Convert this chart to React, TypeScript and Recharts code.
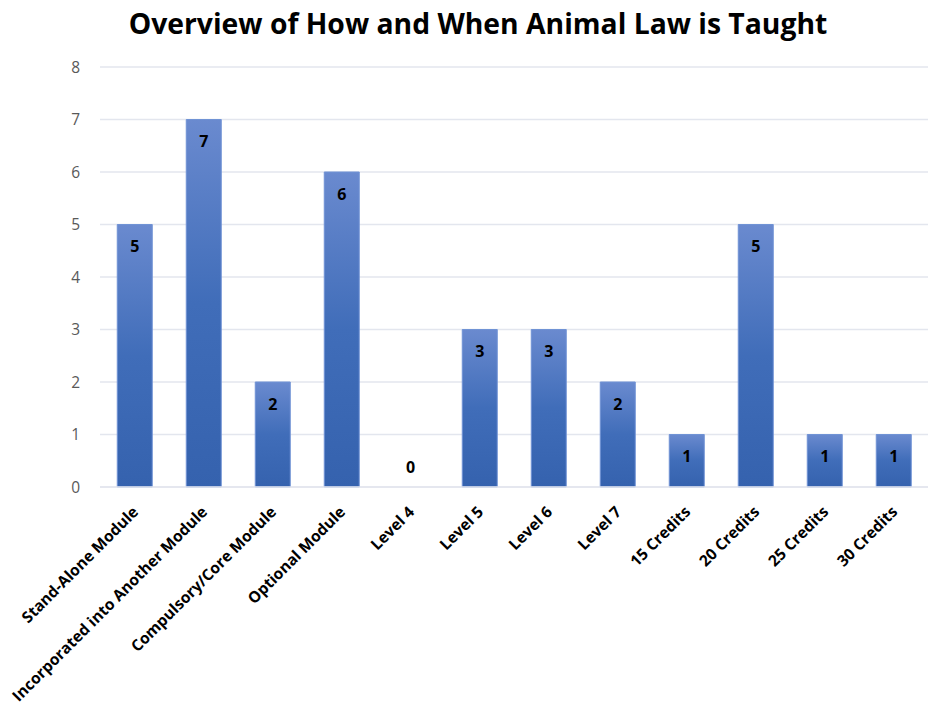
import React from "react";
import { ComposedChart, Bar, Line, XAxis, YAxis, CartesianGrid, LabelList } from "recharts";

const categories = [
  "Stand-Alone Module",
  "Incorporated into Another Module",
  "Compulsory/Core Module",
  "Optional Module",
  "Level 4",
  "Level 5",
  "Level 6",
  "Level 7",
  "15 Credits",
  "20 Credits",
  "25 Credits",
  "30 Credits",
];
const counts = [5, 7, 2, 6, 0, 3, 3, 2, 1, 5, 1, 1];
const yTicks = [0, 1, 2, 3, 4, 5, 6, 7, 8];

const data = categories.map((name, i) => ({ name, count: counts[i] }));

const FONT = "'Open Sans', Lato, sans-serif";

const XTick = (props: any) => {
  const { x, y, payload } = props;
  return (
    <g transform={`translate(${x + 1},${y + 14}) rotate(-45)`}>
      <text x={0} y={0} dy="0.35em" textAnchor="end" fontFamily={FONT} fontWeight="bold" fontSize={15.6} fill="#000">
        {payload.value}
      </text>
    </g>
  );
};

const renderBarLabel = (props: any) => {
  const { x, y, width, value } = props;
  if (Number(value) === 0) return null;
  const cx = Number(x) + Number(width) / 2;
  return (
    <text x={cx} y={Number(y) + 22} dy="0.35em" textAnchor="middle" fontFamily={FONT} fontWeight="bold" fontSize={16} fill="#000">
      {value}
    </text>
  );
};

const renderZeroLabel = (props: any) => {
  const { x, y, value } = props;
  if (Number(value) !== 0) return null;
  return (
    <text x={Number(x)} y={Number(y) - 20} dy="0.35em" textAnchor="middle" fontFamily={FONT} fontWeight="bold" fontSize={16} fill="#000">
      {value}
    </text>
  );
};

export default function App() {
  return (
    <div style={{ position: "absolute", left: 0, top: 0, width: 928, height: 707, background: "#fff" }}>
      <svg width={0} height={0} style={{ position: "absolute" }}>
        <defs>
          <linearGradient id="barGrad" x1="0" y1="0" x2="0" y2="1">
            <stop offset="0%" stopColor="#6a8acf" />
            <stop offset="50%" stopColor="#406db9" />
            <stop offset="100%" stopColor="#3562ae" />
          </linearGradient>
        </defs>
      </svg>
      <div
        style={{
          position: "absolute",
          top: 1,
          left: 0,
          width: 956,
          textAlign: "center",
          fontFamily: FONT,
          fontWeight: "bold",
          fontSize: 28.3,
          lineHeight: "44px",
          color: "#000",
        }}
      >
        Overview of How and When Animal Law is Taught
      </div>
      <ComposedChart
        width={928}
        height={707}
        data={data}
        margin={{ top: 67, right: 0, bottom: 0, left: 0 }}
        barCategoryGap="25%"
      >
        <CartesianGrid vertical={false} stroke="#e3e6ee" strokeWidth={1.3} />
        <XAxis
          dataKey="name"
          interval={0}
          height={220}
          axisLine={{ stroke: "#e3e6ee", strokeWidth: 1.3 }}
          tickLine={false}
          tick={<XTick />}
        />
        <YAxis
          width={100}
          domain={[0, 8]}
          ticks={yTicks}
          axisLine={false}
          tickLine={false}
          tickMargin={14}
          tick={{ fontFamily: FONT, fontSize: 15.5, fill: "#595959" }}
        />
        <Bar dataKey="count" fill="url(#barGrad)" stroke="#7093d5" strokeWidth={1} isAnimationActive={false}>
          <LabelList dataKey="count" content={renderBarLabel} />
        </Bar>
        <Line
          dataKey="count"
          stroke="none"
          dot={false}
          activeDot={false}
          legendType="none"
          isAnimationActive={false}
        >
          <LabelList dataKey="count" content={renderZeroLabel} />
        </Line>
      </ComposedChart>
    </div>
  );
}
